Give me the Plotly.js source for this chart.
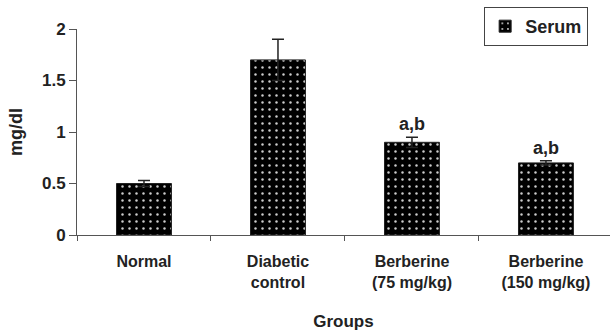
<!DOCTYPE html>
<html>
<head>
<meta charset="utf-8">
<script src="https://cdn.plot.ly/plotly-3.0.1.min.js"></script>
<style>html,body{margin:0;padding:0;background:#fff;}#chart{width:610px;height:331px;}</style>
</head>
<body>
<div id="chart"></div>
<script>
const groups = ["Normal", "Diabetic<br>control", "Berberine<br>(75 mg/kg)", "Berberine<br>(150 mg/kg)"];
const serum = [0.5, 1.7, 0.9, 0.7];
const serumErr = [0.03, 0.2, 0.05, 0.02];
const sigLabels = ["", "", "a,b", "a,b"];
const yTicks = [0, 0.5, 1, 1.5, 2];
const yTickText = ["0", "0.5", "1", "1.5", "2"];

const FONT = "Liberation Sans, Arial, sans-serif";
const TXT = "#222";

const trace = {
  type: "bar",
  name: "<b>Serum</b>",
  x: groups,
  y: serum,
  width: 0.41,
  marker: {
    color: "#000",
    line: {color: "#222", width: 1},
    pattern: {shape: ".", bgcolor: "#000", fgcolor: "#ccc", size: 7, solidity: 0.1, fillmode: "replace"}
  },
  error_y: {type: "data", array: serumErr, visible: true, color: "#222", thickness: 1.5, width: 6},
  hoverinfo: "none"
};

const annotations = [];
groups.forEach((g, i) => {
  if (sigLabels[i]) {
    annotations.push({
      x: g, y: serum[i] + serumErr[i], xref: "x", yref: "y",
      text: "<b>" + sigLabels[i] + "</b>", showarrow: false,
      yanchor: "bottom", yshift: 1,
      font: {family: FONT, size: 18, color: TXT}
    });
  }
});

const layout = {
  width: 610, height: 331,
  margin: {l: 77, r: 0, t: 29, b: 96},
  paper_bgcolor: "#fff", plot_bgcolor: "#fff",
  font: {family: FONT, color: TXT},
  showlegend: true,
  legend: {
    x: 0.959, y: 1.107, xanchor: "right", yanchor: "top",
    bgcolor: "#fff", bordercolor: "#444", borderwidth: 1,
    font: {family: FONT, size: 18, color: TXT},
    itemwidth: 30
  },
  xaxis: {
    type: "category",
    range: [-0.5, 3.478],
    showline: true, linecolor: "#555", linewidth: 1,
    ticks: "outside", tickson: "boundaries", ticklen: 5, tickcolor: "#555",
    showgrid: false, zeroline: false,
    ticklabelstandoff: 12,
    tickfont: {family: FONT, size: 16, color: TXT},
    tickprefix: "<b>", ticksuffix: "</b>",
    title: {text: "<b>Groups</b>", font: {family: FONT, size: 17, color: TXT}, standoff: 25}
  },
  yaxis: {
    range: [0, 2],
    tickvals: yTicks, ticktext: yTickText.map(t => "<b>" + t + "</b>"),
    showline: true, linecolor: "#555", linewidth: 1,
    ticks: "outside", ticklen: 7, tickcolor: "#555",
    showgrid: false, zeroline: false,
    tickfont: {family: FONT, size: 17, color: TXT},
    title: {text: "<b>mg/dl</b>", font: {family: FONT, size: 18, color: TXT}, standoff: 14}
  },
  annotations: annotations
};

Plotly.newPlot("chart", [trace], layout, {displayModeBar: false, staticPlot: true});
</script>
</body>
</html>
